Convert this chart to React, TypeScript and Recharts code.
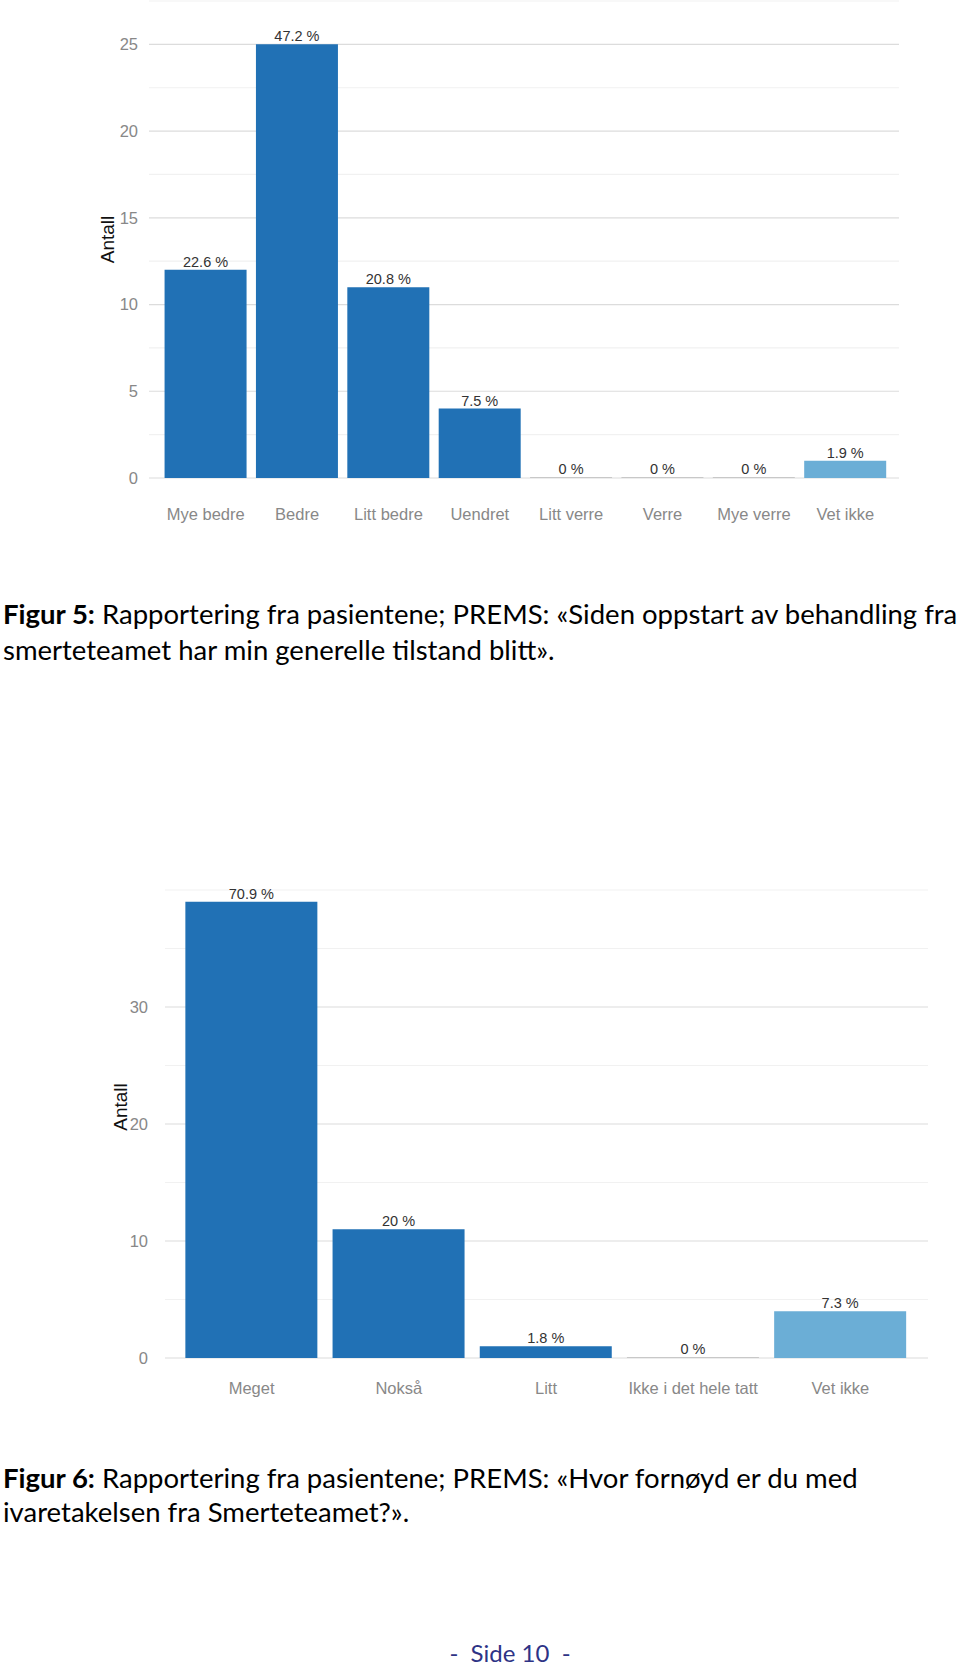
import { BarChart, Bar, XAxis, YAxis, CartesianGrid, LabelList, Cell, Label } from 'recharts'

// Figur 5: general condition since start of treatment
const fig5Categories = ['Mye bedre', 'Bedre', 'Litt bedre', 'Uendret', 'Litt verre', 'Verre', 'Mye verre', 'Vet ikke']
const fig5Counts = [12, 25, 11, 4, 0, 0, 0, 1]
const fig5Pct = ['22.6 %', '47.2 %', '20.8 %', '7.5 %', '0 %', '0 %', '0 %', '1.9 %']
const fig5YTicks = [0, 2.5, 5, 7.5, 10, 12.5, 15, 17.5, 20, 22.5, 25, 27.5]
const fig5YLabels = [0, 5, 10, 15, 20, 25]

// Figur 6: satisfaction with the pain team
const fig6Categories = ['Meget', 'Nokså', 'Litt', 'Ikke i det hele tatt', 'Vet ikke']
const fig6Counts = [39, 11, 1, 0, 4]
const fig6Pct = ['70.9 %', '20 %', '1.8 %', '0 %', '7.3 %']
const fig6YTicks = [0, 5, 10, 15, 20, 25, 30, 35, 40]
const fig6YLabels = [0, 10, 20, 30]

const BAR = '#2171b5'
const BAR_LIGHT = '#6baed6'
const BAR_EMPTY = '#c8c8c8'
const MAJOR_GRID = '#dcdcdc'
const MINOR_GRID = '#f1f1f1'
const AXIS_TEXT = '#888888'

const chartFont = '"Liberation Sans", Arial, sans-serif'
const captionFont = 'Lato, "Open Sans", sans-serif'

function gridLine(ticks: number[], labels: number[]) {
  return (p: any) => {
    const v = ticks[p.index]
    return (
      <line
        key={`g-${p.index}`}
        x1={p.x1}
        x2={p.x2}
        y1={p.y1}
        y2={p.y2}
        stroke={labels.includes(v) ? MAJOR_GRID : MINOR_GRID}
        strokeWidth={1.2}
      />
    )
  }
}

function axisTitle(dx: number, dy: number) {
  return (props: any) => {
    const vb = props.viewBox
    const x = vb.x + dx
    const y = vb.y + vb.height / 2 + dy
    return (
      <text x={x} y={y} transform={`rotate(-90, ${x}, ${y})`} textAnchor="middle" fill="#111" fontSize={19}>
        Antall
      </text>
    )
  }
}

interface ChartProps {
  categories: string[]
  counts: number[]
  pct: string[]
  yTicks: number[]
  yLabels: number[]
  width: number
  height: number
  margin: { top: number; right: number; bottom: number; left: number }
  padding: { left: number; right: number }
  tickMarginX: number
  tickMarginY: number
  titleDx: number
  titleDy: number
}

function SurveyBars(props: ChartProps) {
  const { categories, counts, pct, yTicks, yLabels } = props
  const data = categories.map((name, i) => ({ name, count: counts[i], pct: pct[i] }))
  const last = categories.length - 1
  return (
    <BarChart width={props.width} height={props.height} data={data} margin={props.margin} barCategoryGap="5%">
      <CartesianGrid vertical={false} horizontal={gridLine(yTicks, yLabels)} />
      <XAxis
        dataKey="name"
        interval={0}
        tickLine={false}
        axisLine={false}
        tickSize={0}
        tickMargin={props.tickMarginX}
        padding={props.padding}
        height={40}
        tick={{ fill: AXIS_TEXT, fontSize: 16.5 }}
      />
      <YAxis
        width={50}
        domain={[yTicks[0], yTicks[yTicks.length - 1]]}
        ticks={yTicks}
        interval={0}
        tickLine={false}
        axisLine={false}
        tickSize={0}
        tickMargin={props.tickMarginY}
        tickFormatter={(v: number) => (yLabels.includes(v) ? String(v) : '')}
        tick={{ fill: AXIS_TEXT, fontSize: 16.5 }}
      >
        <Label content={axisTitle(props.titleDx, props.titleDy)} />
      </YAxis>
      <Bar dataKey="count" isAnimationActive={false} minPointSize={1}>
        {data.map((d, i) => (
          <Cell key={d.name} fill={d.count === 0 ? BAR_EMPTY : i === last ? BAR_LIGHT : BAR} />
        ))}
        <LabelList dataKey="pct" position="top" offset={3} fill="#333" fontSize={14.5} />
      </Bar>
    </BarChart>
  )
}

const captionLine: React.CSSProperties = {
  position: 'absolute',
  left: 3,
  whiteSpace: 'nowrap',
  fontSize: 27.5,
  lineHeight: '36px',
  color: '#000',
}

export default function App() {
  return (
    <div style={{ position: 'absolute', left: 0, top: 0, width: 960, height: 1669, background: '#fff', fontFamily: captionFont }}>
      <div style={{ position: 'absolute', left: 0, top: 0, fontFamily: chartFont }}>
        <SurveyBars
          categories={fig5Categories}
          counts={fig5Counts}
          pct={fig5Pct}
          yTicks={fig5YTicks}
          yLabels={fig5YLabels}
          width={960}
          height={540}
          margin={{ top: 1, right: 61, bottom: 22, left: 99 }}
          padding={{ left: 11, right: 8 }}
          tickMarginX={30}
          tickMarginY={11}
          titleDx={15}
          titleDy={0}
        />
      </div>

      <div style={{ ...captionLine, top: 596 }}>
        <b>Figur 5:</b> Rapportering fra pasientene; PREMS: «Siden oppstart av behandling fra
      </div>
      <div style={{ ...captionLine, top: 632 }}>smerteteamet har min generelle tilstand blitt».</div>

      <div style={{ position: 'absolute', left: 0, top: 870, fontFamily: chartFont }}>
        <SurveyBars
          categories={fig6Categories}
          counts={fig6Counts}
          pct={fig6Pct}
          yTicks={fig6YTicks}
          yLabels={fig6YLabels}
          width={960}
          height={560}
          margin={{ top: 20, right: 32, bottom: 32, left: 115 }}
          padding={{ left: 13, right: 14 }}
          tickMarginX={24}
          tickMarginY={17}
          titleDx={12}
          titleDy={-17}
        />
      </div>

      <div style={{ ...captionLine, top: 1460 }}>
        <b>Figur 6:</b> Rapportering fra pasientene; PREMS: «Hvor fornøyd er du med
      </div>
      <div style={{ ...captionLine, top: 1494 }}>ivaretakelsen fra Smerteteamet?».</div>

      <div
        style={{
          position: 'absolute',
          left: 0,
          width: 1020,
          top: 1636,
          textAlign: 'center',
          fontSize: 24,
          lineHeight: '34px',
          color: '#2e3386',
          whiteSpace: 'pre',
        }}
      >
        {'-  Side 10  -'}
      </div>
    </div>
  )
}
